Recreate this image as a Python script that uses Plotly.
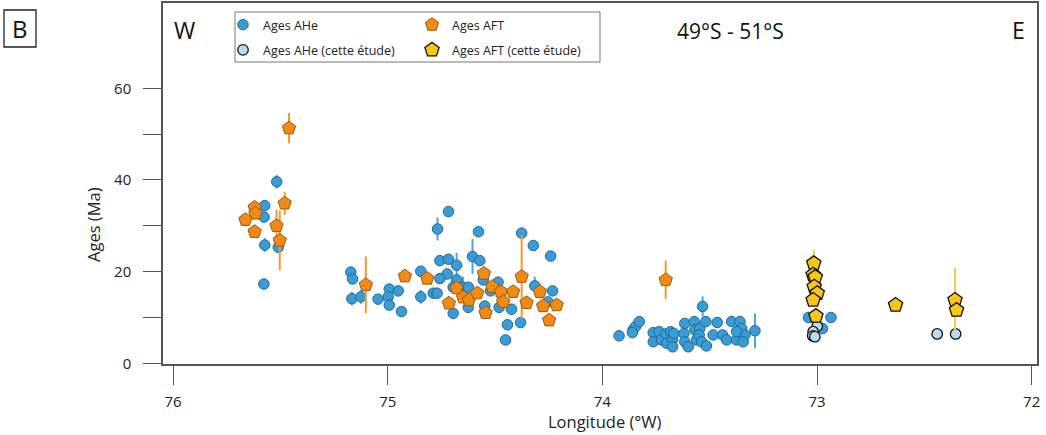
import plotly.graph_objects as go

# ---------------- data ----------------
ahe_lon = [75.517, 75.573, 75.576, 75.573, 75.51, 75.577,
           75.172, 75.164, 75.167, 75.125, 75.045, 74.993, 74.998, 74.993, 74.951, 74.936,
           74.846, 74.846, 74.788, 74.77, 74.768, 74.717, 74.757, 74.717, 74.679, 74.723,
           74.757, 74.679, 74.695, 74.649, 74.624, 74.695, 74.625, 74.605, 74.571, 74.577,
           74.555, 74.521, 74.486, 74.548, 74.481, 74.423, 74.442, 74.451, 74.376, 74.381,
           74.322, 74.315, 74.241, 74.232, 74.253,
           73.922, 73.857, 73.844, 73.828, 73.86, 73.763, 73.763, 73.735, 73.724, 73.704,
           73.701, 73.682, 73.673, 73.673, 73.667, 73.616, 73.620, 73.616, 73.600, 73.572,
           73.569, 73.561, 73.546, 73.549, 73.533, 73.518, 73.538, 73.515, 73.484, 73.465,
           73.440, 73.421, 73.398, 73.375, 73.359, 73.351, 73.336, 73.375, 73.344, 73.289,
           73.04, 72.935, 72.974]
ahe_age = [39.6, 34.4, 31.9, 25.8, 25.3, 17.3,
           19.9, 18.4, 14.1, 14.5, 14.0, 16.2, 14.5, 12.7, 15.8, 11.3,
           20.1, 14.5, 15.3, 15.3, 29.3, 33.1, 22.4, 22.7, 21.4, 19.5,
           18.5, 18.2, 16.6, 16.6, 16.6, 10.9, 12.2, 23.3, 22.4, 28.7,
           18.2, 15.8, 17.7, 12.5, 12.2, 11.8, 8.4, 5.1, 28.4, 8.9,
           25.7, 16.9, 23.4, 15.8, 13.4,
           6.0, 7.3, 8.1, 9.1, 6.7, 6.7, 4.7, 6.9, 5.1, 6.4,
           4.4, 6.9, 5.2, 3.6, 6.5, 8.7, 6.5, 4.7, 3.6, 9.1,
           7.3, 5.1, 7.6, 6.2, 12.4, 9.1, 4.7, 3.8, 6.2, 8.9,
           6.2, 5.1, 9.1, 5.1, 9.1, 7.6, 6.2, 6.9, 4.7, 7.1,
           10.0, 10.0, 7.6]
ahe_err = [1.5, 1.0, 0.8, 1.5, 0.8, 0.3,
           0.3, 0.3, 1.5, 1.5, 0.3, 0.3, 0.3, 0.3, 0.3, 0.3,
           0.3, 1.5, 0.3, 0.3, 2.5, 0.3, 0.3, 0.3, 2.7, 0.3,
           0.3, 0.3, 0.3, 2.3, 0.3, 0.3, 0.3, 3.8, 0.3, 0.3,
           0.3, 0.3, 0.3, 0.3, 0.3, 0.3, 0.3, 0.3, 0.3, 0.3,
           0.3, 2.0, 0.3, 0.3, 0.3,
           0.3, 0.3, 0.3, 0.3, 0.3, 0.3, 0.3, 0.3, 0.3, 0.3,
           0.3, 0.3, 0.3, 0.3, 0.3, 0.3, 0.3, 0.3, 0.3, 0.3,
           0.3, 0.3, 0.3, 0.3, 2.2, 0.3, 0.3, 0.3, 0.3, 0.3,
           0.3, 0.3, 0.3, 0.3, 0.3, 0.3, 0.3, 0.3, 0.3, 3.8,
           0.3, 0.3, 0.3]

aft_lon = [75.46, 75.48, 75.62, 75.616, 75.663, 75.62, 75.518, 75.503,
           75.102, 74.92, 74.816, 74.679, 74.649, 74.622, 74.715, 74.583,
           74.552, 74.544, 74.513, 74.473, 74.462, 74.416, 74.376, 74.353,
           74.291, 74.276, 74.213, 74.248, 73.705]
aft_age = [51.3, 34.9, 34.0, 32.7, 31.3, 28.7, 30.0, 26.8,
           17.1, 19.0, 18.5, 16.4, 14.4, 13.8, 13.1, 15.3,
           19.6, 11.0, 16.7, 15.6, 13.4, 15.6, 18.9, 13.2,
           15.6, 12.5, 12.7, 9.4, 18.2]
aft_err = [3.3, 2.5, 0.8, 0.8, 0.8, 0.8, 3.5, 6.5,
           6.2, 1.0, 1.0, 1.0, 1.0, 1.0, 1.0, 1.0,
           1.0, 1.0, 1.0, 1.0, 1.0, 1.0, 9.1, 1.0,
           1.5, 1.0, 1.0, 1.0, 4.2]

ahe_new_lon = [72.999, 73.018, 73.020, 73.010, 72.44, 72.354]
ahe_new_age = [8.1, 6.9, 6.0, 5.8, 6.4, 6.4]
ahe_new_err = [0.3, 0.3, 0.3, 0.3, 0.3, 0.3]

aft_new_lon = [73.015, 73.018, 73.008, 73.013, 72.999, 73.018, 73.005, 72.634, 72.357, 72.350]
aft_new_age = [21.8, 19.3, 18.8, 16.7, 15.3, 13.8, 10.3, 12.7, 13.8, 11.6]
aft_new_err = [3.0, 1.0, 1.0, 1.0, 1.0, 1.0, 1.0, 1.0, 7.0, 1.0]

x_ticks = [76, 75, 74, 73, 72]
y_ticks = [0, 20, 40, 60]

# ---------------- styling / layout ----------------
W, H = 1046, 435
L, R, T, B = 163, 9, 3, 71
PW, PH = W - L - R, H - T - B
FONT = "Open Sans"


def px(x):
    return (x - L) / PW


def py(y):
    return (H - B - y) / PH


fig = go.Figure()


def add(lon, age, err, name, symbol, size, fill, edge, ebcolor, legend, lw=1):
    fig.add_trace(go.Scatter(
        x=lon, y=age, mode="markers", name=name, legend=legend, legendgroup=name,
        marker=dict(symbol=symbol, size=size, color=fill, line=dict(color=edge, width=lw)),
        error_y=dict(type="data", array=err, visible=True, thickness=2, width=0, color=ebcolor),
    ))


add(ahe_lon, ahe_age, ahe_err, "Ages AHe", "circle", 10.5, "#3a9bd6", "#1d6a98", "#4aa5de", "legend")
add(aft_lon, aft_age, aft_err, "Ages AFT", "pentagon", 14, "#f08a14", "#9a5a10", "#f29a2e", "legend2")
add(ahe_new_lon, ahe_new_age, ahe_new_err, "Ages AHe (cette étude)", "circle", 10.5, "#b7def0", "#111111", "#b7def0", "legend", 1.3)
add(aft_new_lon, aft_new_age, aft_new_err, "Ages AFT (cette étude)", "pentagon", 15, "#f6c719", "#111111", "#f4c74a", "legend2", 1.3)

axcol = "#555555"
fig.update_layout(
    width=W, height=H, autosize=False,
    margin=dict(l=L, r=R, t=T, b=B, autoexpand=False),
    paper_bgcolor="white", plot_bgcolor="white",
    font=dict(family=FONT, size=15, color="#222222"),
    showlegend=True,
    xaxis=dict(range=[76.047, 71.975], tickvals=x_ticks, ticks="outside", ticklen=19,
               tickcolor=axcol, tickwidth=1.3, showline=True, linecolor=axcol, linewidth=1.5,
               mirror=True, showgrid=False, zeroline=False, ticklabelstandoff=4,
               tickfont=dict(size=15), automargin=False),
    yaxis=dict(range=[-0.15, 78.6], tickvals=y_ticks, ticks="outside", ticklen=18,
               tickcolor=axcol, tickwidth=1.3, showline=True, linecolor=axcol, linewidth=1.5,
               mirror=True, showgrid=False, zeroline=False, ticklabelstandoff=9,
               tickfont=dict(size=15), automargin=False,
               minor=dict(tickvals=[10, 30, 50], ticks="outside", ticklen=18,
                          tickcolor=axcol, tickwidth=1.3, showgrid=False)),
    legend=dict(x=px(223), y=py(10), xanchor="left", yanchor="top",
                bgcolor="rgba(0,0,0,0)", font=dict(size=12.5, family=FONT),
                tracegroupgap=6, itemsizing="trace"),
    legend2=dict(x=px(412), y=py(10), xanchor="left", yanchor="top",
                 bgcolor="rgba(0,0,0,0)", font=dict(size=12.5, family=FONT),
                 tracegroupgap=6, itemsizing="trace"),
)


def note(text, x, y, size, angle=0, color="#111111"):
    fig.add_annotation(x=px(x), y=py(y), xref="paper", yref="paper", text=text,
                       xanchor="center", yanchor="middle", textangle=angle,
                       showarrow=False, font=dict(size=size, family=FONT, color=color))


# axis titles
note("Longitude (°W)", 605, 421, 16.5, color="#222222")
note("Ages (Ma)", 93, 225, 16.5, angle=-90, color="#222222")

# legend frame
fig.add_shape(type="rect", xref="paper", yref="paper",
              x0=px(235), x1=px(600), y0=py(62), y1=py(12),
              line=dict(color="#777777", width=1), fillcolor="rgba(0,0,0,0)", layer="below")

# panel label box "B"
fig.add_shape(type="rect", xref="paper", yref="paper",
              x0=px(4), x1=px(36), y0=py(47), y1=py(10),
              line=dict(color="#222222", width=1.3))
note("B", 20, 29, 24)
note("W", 184, 30, 23)
note("E", 1018, 30, 23)
note("49°S - 51°S", 730, 31, 21)

fig.write_html("out.html", config={"displayModeBar": False},
               post_script="document.body.style.margin='0px';")
